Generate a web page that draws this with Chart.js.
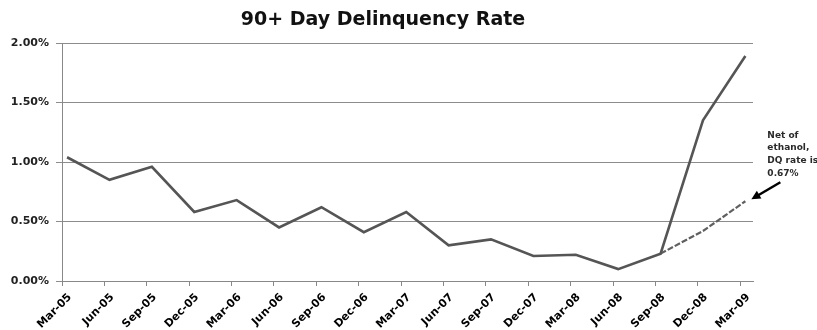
<!DOCTYPE html>
<html>
<head>
<meta charset="utf-8">
<script src="https://cdn.jsdelivr.net/npm/chart.js@4/dist/chart.umd.min.js"></script>
<style>
  html, body { margin: 0; padding: 0; background: #fff; }
  #c { display: block; }
</style>
</head>
<body>
<canvas id="c" width="817" height="330"></canvas>
<script>
// Quarter-end labels along the x axis
const quarters = ['Mar-05', 'Jun-05', 'Sep-05', 'Dec-05', 'Mar-06', 'Jun-06', 'Sep-06', 'Dec-06',
                  'Mar-07', 'Jun-07', 'Sep-07', 'Dec-07', 'Mar-08', 'Jun-08', 'Sep-08', 'Dec-08', 'Mar-09'];

// 90+ day delinquency rate, in percent
const delinquencyRate = [1.04, 0.85, 0.96, 0.58, 0.68, 0.45, 0.62, 0.41,
                         0.58, 0.30, 0.35, 0.21, 0.22, 0.10, 0.23, 1.35, 1.89];

// Same rate excluding ethanol loans (only the last three quarters)
const netOfEthanol = [null, null, null, null, null, null, null, null,
                      null, null, null, null, null, null, 0.23, 0.42, 0.67];

// Y axis tick values, in percent
const yTicks = [0, 0.5, 1.0, 1.5, 2.0];

const titleText = '90+ Day Delinquency Rate';
const noteLines = ['Net of', 'ethanol,', 'DQ rate is', '0.67%'];

// Tick marks sit a little to the left of each quarter's point
const TICK_SHIFT = 0.12;
const FONT = '"DejaVu Sans", "Liberation Sans", sans-serif';

const toPoints = arr => arr.map((v, i) => ({ x: i, y: v }));

// Title, callout text and arrow
const decorations = {
  id: 'decorations',
  afterDraw(chart) {
    const { ctx } = chart;
    const xs = chart.scales.x, ys = chart.scales.y;
    ctx.save();

    ctx.fillStyle = '#111';
    ctx.font = 'bold 19px ' + FONT;
    ctx.textAlign = 'center';
    ctx.textBaseline = 'alphabetic';
    ctx.fillText(titleText, 383, 25);

    const last = netOfEthanol.length - 1;
    const px = xs.getPixelForValue(last);
    const py = ys.getPixelForValue(netOfEthanol[last]);

    // callout text
    ctx.fillStyle = '#2a2a2a';
    ctx.font = 'bold 9px ' + FONT;
    ctx.textAlign = 'left';
    ctx.textBaseline = 'middle';
    noteLines.forEach((line, i) => ctx.fillText(line, px + 22, py - 66 + i * 12.7));

    // arrow pointing at the last point
    const tipX = px + 6, tipY = py - 2;
    const tailX = tipX + 29, tailY = tipY - 17;
    const ang = Math.atan2(tipY - tailY, tipX - tailX);
    ctx.strokeStyle = '#000';
    ctx.fillStyle = '#000';
    ctx.lineWidth = 2.5;
    ctx.beginPath();
    ctx.moveTo(tailX, tailY);
    ctx.lineTo(tipX - 6 * Math.cos(ang), tipY - 6 * Math.sin(ang));
    ctx.stroke();
    ctx.beginPath();
    ctx.moveTo(tipX, tipY);
    ctx.lineTo(tipX - 9 * Math.cos(ang) + 4.5 * Math.sin(ang), tipY - 9 * Math.sin(ang) - 4.5 * Math.cos(ang));
    ctx.lineTo(tipX - 9 * Math.cos(ang) - 4.5 * Math.sin(ang), tipY - 9 * Math.sin(ang) + 4.5 * Math.cos(ang));
    ctx.closePath();
    ctx.fill();

    ctx.restore();
  }
};

new Chart(document.getElementById('c'), {
  type: 'line',
  data: {
    datasets: [
      {
        label: '90+ Day Delinquency Rate',
        data: toPoints(delinquencyRate),
        borderColor: '#555555',
        borderWidth: 2.6,
        pointRadius: 0,
        tension: 0,
        order: 1
      },
      {
        label: 'Net of ethanol',
        data: toPoints(netOfEthanol),
        borderColor: '#606060',
        borderWidth: 2.2,
        borderDash: [6, 2],
        pointRadius: 0,
        tension: 0,
        spanGaps: false,
        order: 2
      }
    ]
  },
  options: {
    responsive: false,
    animation: false,
    devicePixelRatio: 1,
    layout: { padding: { top: 43, right: 64, left: 0, bottom: 0 } },
    plugins: {
      legend: { display: false },
      tooltip: { enabled: false },
      title: { display: false }
    },
    scales: {
      x: {
        type: 'linear',
        min: -TICK_SHIFT,
        max: quarters.length - 1 + 0.18,
        afterBuildTicks: s => { s.ticks = quarters.map((_, i) => ({ value: i - TICK_SHIFT })); },
        afterFit: s => { s.height = 49; },
        ticks: {
          autoSkip: false,
          minRotation: 45,
          maxRotation: 45,
          padding: 5,
          labelOffset: 8,
          color: '#000',
          font: { family: FONT, weight: 'bold', size: 11 },
          callback: (v, i) => quarters[i]
        },
        grid: { drawOnChartArea: false, drawTicks: true, tickLength: 5, color: '#888' },
        border: { display: true, color: '#888', width: 1 }
      },
      y: {
        min: 0,
        max: 2,
        afterBuildTicks: s => { s.ticks = yTicks.map(v => ({ value: v })); },
        afterFit: s => { s.width = 62; },
        ticks: {
          padding: 7,
          color: '#222',
          font: { family: FONT, weight: 'bold', size: 11 },
          callback: v => v.toFixed(2) + '%'
        },
        grid: { color: '#8c8c8c', lineWidth: 1, drawTicks: true, tickLength: 6 },
        border: { display: true, color: '#888', width: 1 }
      }
    }
  },
  plugins: [decorations]
});
</script>
</body>
</html>
